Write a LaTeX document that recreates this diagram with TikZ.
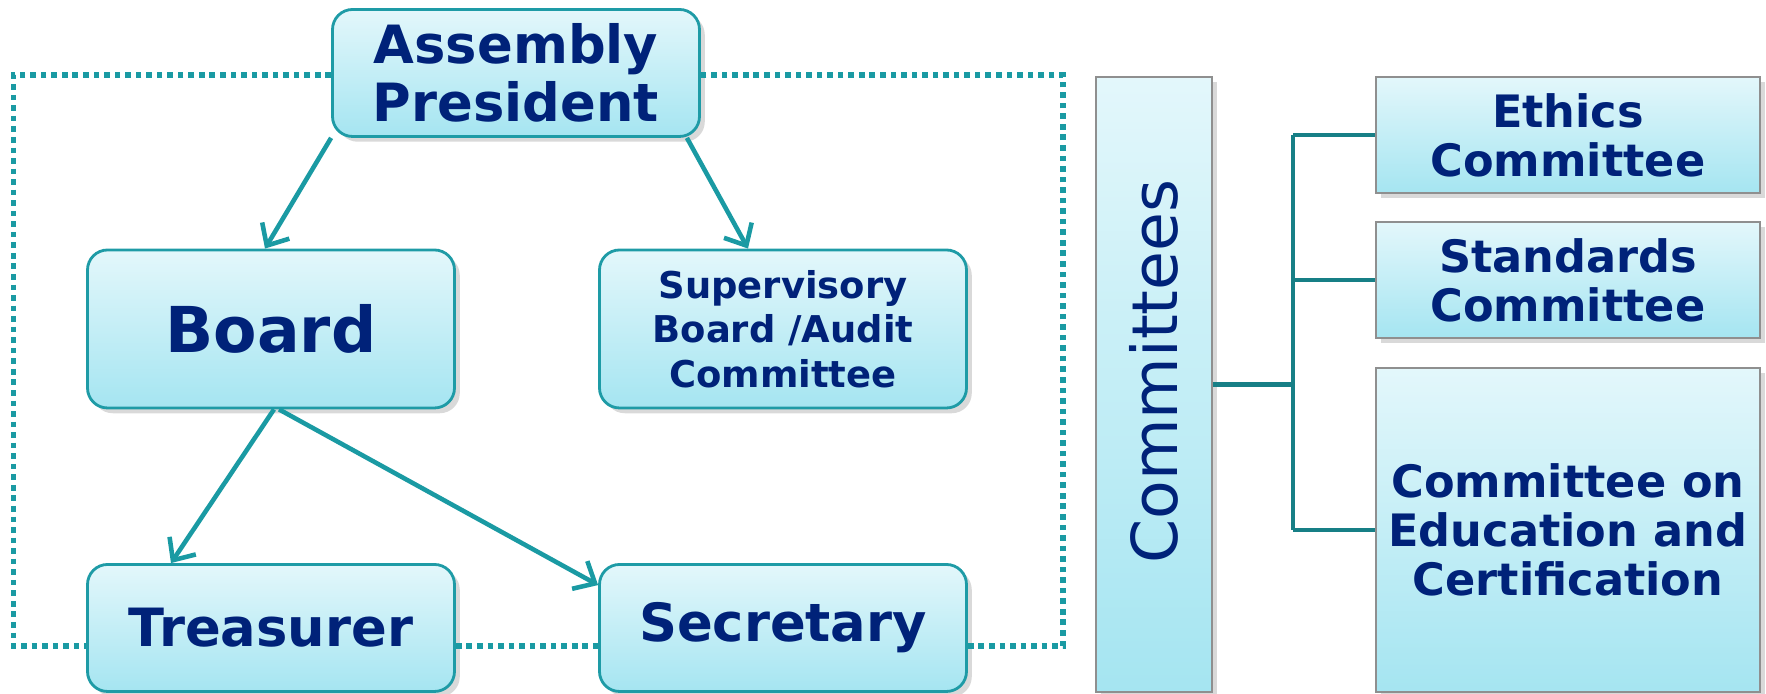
\documentclass[tikz,border=0pt]{standalone}
\usepackage{fontspec}
\setmainfont{DejaVu Sans}
\usepackage{xcolor}
\usepackage{tikz}
\usetikzlibrary{positioning, arrows.meta, shadows}

\definecolor{boxtop}{HTML}{E3F7FB}
\definecolor{boxbot}{HTML}{A5E5F1}
\definecolor{boxline}{HTML}{1E9BA6}
\definecolor{navy}{HTML}{002279}
\definecolor{arrowteal}{HTML}{1A9AA3}
\definecolor{branchteal}{HTML}{177F86}
\definecolor{grayline}{HTML}{8F8F8F}

\tikzset{
  officebox/.style={draw=boxline, line width=0.8pt, rounded corners=0.2cm,
    top color=boxtop, bottom color=boxbot, text=navy, align=center,
    inner sep=0pt, minimum width=3.67cm,
    drop shadow={shadow xshift=1.5pt, shadow yshift=-1.5pt, fill=black, opacity=0.15}},
  combox/.style={draw=grayline, line width=0.6pt,
    top color=boxtop, bottom color=boxbot, text=navy, align=center,
    inner sep=0pt, minimum width=3.84cm,
    font=\bfseries\fontsize{12.7}{14}\selectfont,
    drop shadow={shadow xshift=1.5pt, shadow yshift=-1.5pt, fill=black, opacity=0.15}},
  reports/.style={draw=arrowteal, line width=1.3pt, -{Straight Barb[length=5pt, width=9pt, line width=1.3pt]}},
  dotline/.style={draw=arrowteal, line width=1.6pt, dash pattern=on 1.6pt off 1.4pt},
  branch/.style={draw=branchteal, line width=1.4pt}
}

\begin{document}
\begin{tikzpicture}
\useasboundingbox (0, 0) rectangle (17.66, 6.94);

% left part
\node [officebox, minimum height=1.27cm, font=\bfseries\fontsize{15}{16.5}\selectfont] (pres) at (5.16, 6.21) {Assembly\\President};
\node [officebox, minimum height=1.58cm, font=\bfseries\fontsize{18}{20}\selectfont] (board) at (2.71, 3.65) {Board};
\node [officebox, minimum height=1.58cm, font=\bfseries\fontsize{10.5}{12.6}\selectfont] (super) at (7.83, 3.65) {Supervisory\\Board /Audit\\Committee};
\node [officebox, minimum height=1.27cm, font=\bfseries\fontsize{15}{16}\selectfont] (treas) at (2.71, 0.66) {Treasurer};
\node [officebox, minimum height=1.27cm, font=\bfseries\fontsize{15}{16}\selectfont] (sec) at (7.83, 0.66) {Secretary};

\coordinate (tl) at (0.135, 6.19);
\coordinate (bl) at (0.135, 0.48);
\coordinate (br) at (10.63, 0.48);
\coordinate (tr) at (10.63, 6.19);

\draw [dotline] (pres.west |- tl) -- (tl) -- (bl) -- (treas.west |- bl);
\draw [dotline] (treas.east |- bl) -- (sec.west |- bl);
\draw [dotline] (sec.east |- bl) -- (br) -- (tr) -- (pres.east |- tr);

\draw [reports] (pres.south west) -- ([xshift=-0.06cm]board.north);
\draw [reports] ([xshift=-0.14cm]pres.south east) -- ([xshift=-0.35cm]super.north);
\draw [reports] ([xshift=0.03cm]board.south) -- ([xshift=-1.0cm]treas.north);
\draw [reports] ([xshift=0.08cm]board.south) -- ([yshift=-0.22cm]sec.north west);

% right part
\node [combox, minimum width=1.16cm, minimum height=6.15cm,
  label={[yshift=0.13cm, rotate=90, text=navy, font=\fontsize{18}{20}\selectfont]center:Committees}] (comm) at (11.54, 3.095) {};
\node [combox, minimum height=1.16cm] (ethics) at (15.68, 5.59) {Ethics\\Committee};
\node [combox, minimum height=1.16cm] (stand) at (15.68, 4.14) {Standards\\Committee};
\node [combox, minimum height=3.24cm] (edu) at (15.68, 1.64) {Committee on\\Education and\\Certification};

\coordinate (fork) at (12.93, 3.095);
\draw [branch] (comm.east) -- (fork);
\draw [branch] (fork |- ethics.west) -- (fork |- edu.west);
\draw [branch] (fork |- ethics.west) -- (ethics.west);
\draw [branch] (fork |- stand.west) -- (stand.west);
\draw [branch] (fork |- edu.west) -- (edu.west);
\end{tikzpicture}
\end{document}
